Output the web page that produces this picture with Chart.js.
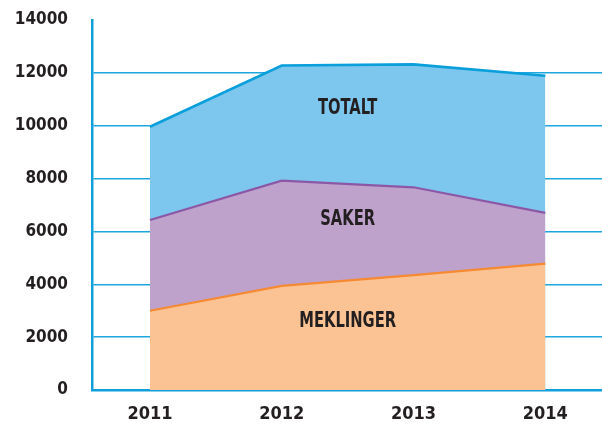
<!DOCTYPE html>
<html>
<head>
<meta charset="utf-8">
<script src="https://cdn.jsdelivr.net/npm/chart.js@4/dist/chart.umd.min.js"></script>
<style>
html,body{margin:0;padding:0;background:#fff;}
#wrap{position:relative;width:602px;height:427px;}
</style>
</head>
<body>
<div id="wrap"><canvas id="c" width="602" height="427"></canvas></div>
<script>
const categories = [2011, 2012, 2013, 2014];
const meklinger = [3000, 3940, 4350, 4780];
const saker = [6430, 7920, 7670, 6700];
const totalt = [9960, 12280, 12320, 11890];
const yTicks = [0, 2000, 4000, 6000, 8000, 10000, 12000, 14000];
const seriesNames = ['MEKLINGER', 'SAKER', 'TOTALT'];
const labelAnchorX = 2012.5;
const labelAnchorY = [2690, 6560, 10750];

const toPts = arr => arr.map((v, i) => ({x: categories[i], y: v}));

const textLabels = {
  id: 'textLabels',
  afterDatasetsDraw(chart) {
    const {ctx, scales} = chart;
    ctx.save();
    ctx.fillStyle = '#231f20';
    ctx.font = 'bold 21px "DejaVu Sans Condensed", "DejaVu Sans"';
    ctx.textAlign = 'center';
    ctx.textBaseline = 'middle';
    seriesNames.forEach((name, i) => {
      const x = scales.x.getPixelForValue(labelAnchorX);
      const y = scales.y.getPixelForValue(labelAnchorY[i]);
      ctx.save();
      ctx.translate(x, y + 2.5);
      ctx.scale(0.78, 1);
      ctx.fillText(name, 0, 0);
      ctx.restore();
    });
    ctx.restore();
  }
};

new Chart(document.getElementById('c'), {
  type: 'line',
  data: {
    datasets: [
      {label: seriesNames[0], data: toPts(meklinger), borderColor: '#f58a33', backgroundColor: '#fbc394', borderWidth: 2.2, fill: 'origin', pointRadius: 0, tension: 0},
      {label: seriesNames[1], data: toPts(saker), borderColor: '#8c58a6', backgroundColor: '#bea2cc', borderWidth: 2.2, fill: 'origin', pointRadius: 0, tension: 0},
      {label: seriesNames[2], data: toPts(totalt), borderColor: '#0a9fdb', backgroundColor: '#7dc6ee', borderWidth: 2.6, fill: 'origin', pointRadius: 0, tension: 0}
    ]
  },
  options: {
    responsive: false,
    animation: false,
    events: [],
    layout: {padding: {top: 20, right: 0, left: 0, bottom: 0}},
    plugins: {legend: {display: false}, tooltip: {enabled: false}},
    scales: {
      x: {
        type: 'linear',
        min: 2010.56,
        max: 2014.43,
        z: 1,
        afterFit(s) { s.height = 37; s.paddingLeft = 0; s.paddingRight = 0; },
        afterBuildTicks(s) { s.ticks = categories.map(v => ({value: v})); },
        grid: {display: false, drawTicks: false},
        border: {display: true, color: '#0f9fdb', width: 2.5},
        ticks: {
          padding: 14,
          color: '#231f20',
          font: {family: '"DejaVu Sans Condensed", "DejaVu Sans"', size: 18, weight: 'bold'},
          callback: v => String(v)
        }
      },
      y: {
        min: 0,
        max: 14000,
        z: 1,
        afterFit(s) { s.width = 92; s.paddingTop = 0; s.paddingBottom = 0; },
        afterBuildTicks(s) { s.ticks = yTicks.map(v => ({value: v})); },
        grid: {
          drawTicks: false,
          lineWidth: 1.4,
          color: ctx => (ctx.tick && (ctx.tick.value === 14000 || ctx.tick.value === 0)) ? 'rgba(0,0,0,0)' : '#1ea6de'
        },
        border: {display: true, color: '#0f9fdb', width: 2.5},
        ticks: {
          padding: 24,
          color: '#231f20',
          font: {family: '"DejaVu Sans Condensed", "DejaVu Sans"', size: 17, weight: 'bold'},
          callback: v => String(v)
        }
      }
    }
  },
  plugins: [textLabels]
});
</script>
</body>
</html>
